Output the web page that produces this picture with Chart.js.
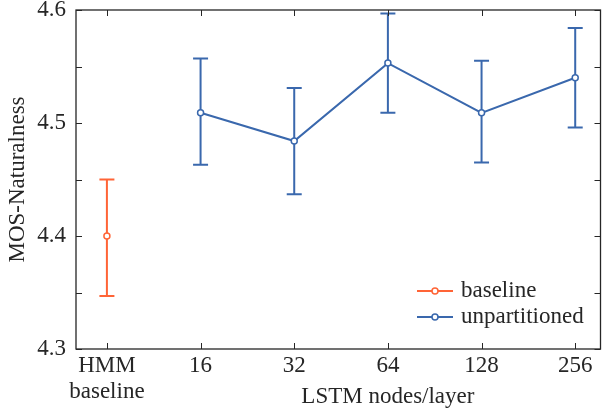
<!DOCTYPE html>
<html><head><meta charset="UTF-8">
<title>MOS naturalness vs LSTM nodes</title>
<script src="https://cdn.jsdelivr.net/npm/chart.js@4/dist/chart.umd.min.js"></script>
<style>
  body { margin: 0; background: #fff; }
  canvas { display: block; }
</style>
</head>
<body>
<canvas id="mos-chart" width="606" height="409"></canvas>
<script>
// category labels on the x axis (index = x position)
var categories = [['HMM', 'baseline'], '16', '32', '64', '128', '256'];
var xTitle = 'LSTM nodes/layer';
var yTitle = 'MOS-Naturalness';
var yTicks = [4.3, 4.4, 4.5, 4.6];

// HMM baseline
var baselineX = [0];
var baselineMean = [4.400];
var baselineLow = [4.347];
var baselineHigh = [4.450];

// unpartitioned LSTM
var lstmX = [1, 2, 3, 4, 5];
var lstmMean = [4.509, 4.484, 4.553, 4.509, 4.540];
var lstmLow = [4.463, 4.437, 4.509, 4.465, 4.496];
var lstmHigh = [4.557, 4.531, 4.597, 4.555, 4.584];

var ORANGE = '#FF6436';
var BLUE = '#3A68AD';
var INK = '#262626';
var FONT = '"Liberation Serif", "Times New Roman", serif';

function pts(xs, ys) {
  return xs.map(function (x, i) { return { x: x, y: ys[i] }; });
}

// error bars, inward ticks, frame, x title and legend
var decor = {
  id: 'decor',
  beforeDatasetsDraw: function (chart) {
    var ctx = chart.ctx, xs = chart.scales.x, ys = chart.scales.y;
    chart.data.datasets.forEach(function (ds) {
      ctx.save();
      ctx.strokeStyle = ds.borderColor;
      ctx.lineWidth = 2;
      ds.data.forEach(function (p, i) {
        var px = xs.getPixelForValue(p.x);
        var top = ys.getPixelForValue(ds.errHigh[i]);
        var bot = ys.getPixelForValue(ds.errLow[i]);
        ctx.beginPath();
        ctx.moveTo(px, top); ctx.lineTo(px, bot);
        ctx.moveTo(px - 7.5, top); ctx.lineTo(px + 7.5, top);
        ctx.moveTo(px - 7.5, bot); ctx.lineTo(px + 7.5, bot);
        ctx.stroke();
      });
      ctx.restore();
    });
  },
  afterDraw: function (chart) {
    var ctx = chart.ctx, a = chart.chartArea;
    var xs = chart.scales.x, ys = chart.scales.y;
    ctx.save();
    ctx.strokeStyle = INK;
    ctx.lineWidth = 1.3;
    ctx.strokeRect(a.left, a.top, a.right - a.left, a.bottom - a.top);
    ctx.lineWidth = 1;
    ctx.beginPath();
    for (var v = 4.3; v <= 4.6001; v += 0.05) {
      var py = Math.round(ys.getPixelForValue(v)) + 0.5;
      ctx.moveTo(a.left, py); ctx.lineTo(a.left + 6, py);
      ctx.moveTo(a.right, py); ctx.lineTo(a.right - 6, py);
    }
    for (var i = 0; i < categories.length; i++) {
      var px = Math.round(xs.getPixelForValue(i)) + 0.5;
      ctx.moveTo(px, a.bottom); ctx.lineTo(px, a.bottom - 6);
      ctx.moveTo(px, a.top); ctx.lineTo(px, a.top + 6);
    }
    ctx.stroke();

    // x axis title, centred under the LSTM ticks
    ctx.fillStyle = INK;
    ctx.font = '23px ' + FONT;
    ctx.textAlign = 'center';
    ctx.textBaseline = 'middle';
    ctx.fillText(xTitle, xs.getPixelForValue(3), 397);

    // legend, lower right inside the axes
    chart.data.datasets.forEach(function (ds, k) {
      var ly = 291 + k * 26;
      ctx.strokeStyle = ds.borderColor;
      ctx.lineWidth = 2;
      ctx.beginPath();
      ctx.moveTo(417, ly); ctx.lineTo(453, ly);
      ctx.stroke();
      ctx.fillStyle = '#fff';
      ctx.beginPath();
      ctx.arc(435, ly, 3, 0, Math.PI * 2);
      ctx.fill();
      ctx.lineWidth = 1.5;
      ctx.stroke();
      ctx.fillStyle = INK;
      ctx.textAlign = 'left';
      ctx.fillText(ds.label, 461, ly);
    });
    ctx.restore();
  }
};

new Chart(document.getElementById('mos-chart'), {
  type: 'scatter',
  data: {
    datasets: [{
      label: 'baseline',
      data: pts(baselineX, baselineMean),
      errLow: baselineLow,
      errHigh: baselineHigh,
      borderColor: ORANGE,
      backgroundColor: '#fff',
      pointRadius: 3,
      pointBorderWidth: 1.5,
      showLine: false
    }, {
      label: 'unpartitioned',
      data: pts(lstmX, lstmMean),
      errLow: lstmLow,
      errHigh: lstmHigh,
      borderColor: BLUE,
      backgroundColor: '#fff',
      pointRadius: 3,
      pointBorderWidth: 1.5,
      borderWidth: 2,
      showLine: true
    }]
  },
  options: {
    responsive: false,
    animation: false,
    layout: { padding: { top: 10, right: 1, left: 0, bottom: 0 } },
    plugins: { legend: { display: false }, tooltip: { enabled: false } },
    scales: {
      x: {
        type: 'linear',
        min: -0.33,
        max: 5.27,
        afterFit: function (s) {
          s.height = 60;
          s.paddingLeft = 0; s.paddingRight = 0;
        },
        afterBuildTicks: function (s) {
          s.ticks = categories.map(function (c, i) { return { value: i }; });
        },
        grid: { display: false, drawTicks: false },
        border: { display: false },
        ticks: {
          padding: 4,
          color: INK,
          font: { family: FONT, size: 23, lineHeight: 1.13 },
          maxRotation: 0,
          callback: function (v) { return categories[v]; }
        }
      },
      y: {
        min: 4.3,
        max: 4.6,
        afterFit: function (s) {
          s.width = 76;
          s.paddingTop = 0; s.paddingBottom = 0;
        },
        afterBuildTicks: function (s) {
          s.ticks = yTicks.map(function (v) { return { value: v }; });
        },
        grid: { display: false, drawTicks: false },
        border: { display: false },
        title: {
          display: true,
          text: yTitle,
          color: INK,
          font: { family: FONT, size: 23 }
        },
        ticks: {
          padding: 10,
          color: INK,
          font: { family: FONT, size: 23 },
          callback: function (v) { return v.toFixed(1); }
        }
      }
    }
  },
  plugins: [decor]
});
</script>
</body></html>
